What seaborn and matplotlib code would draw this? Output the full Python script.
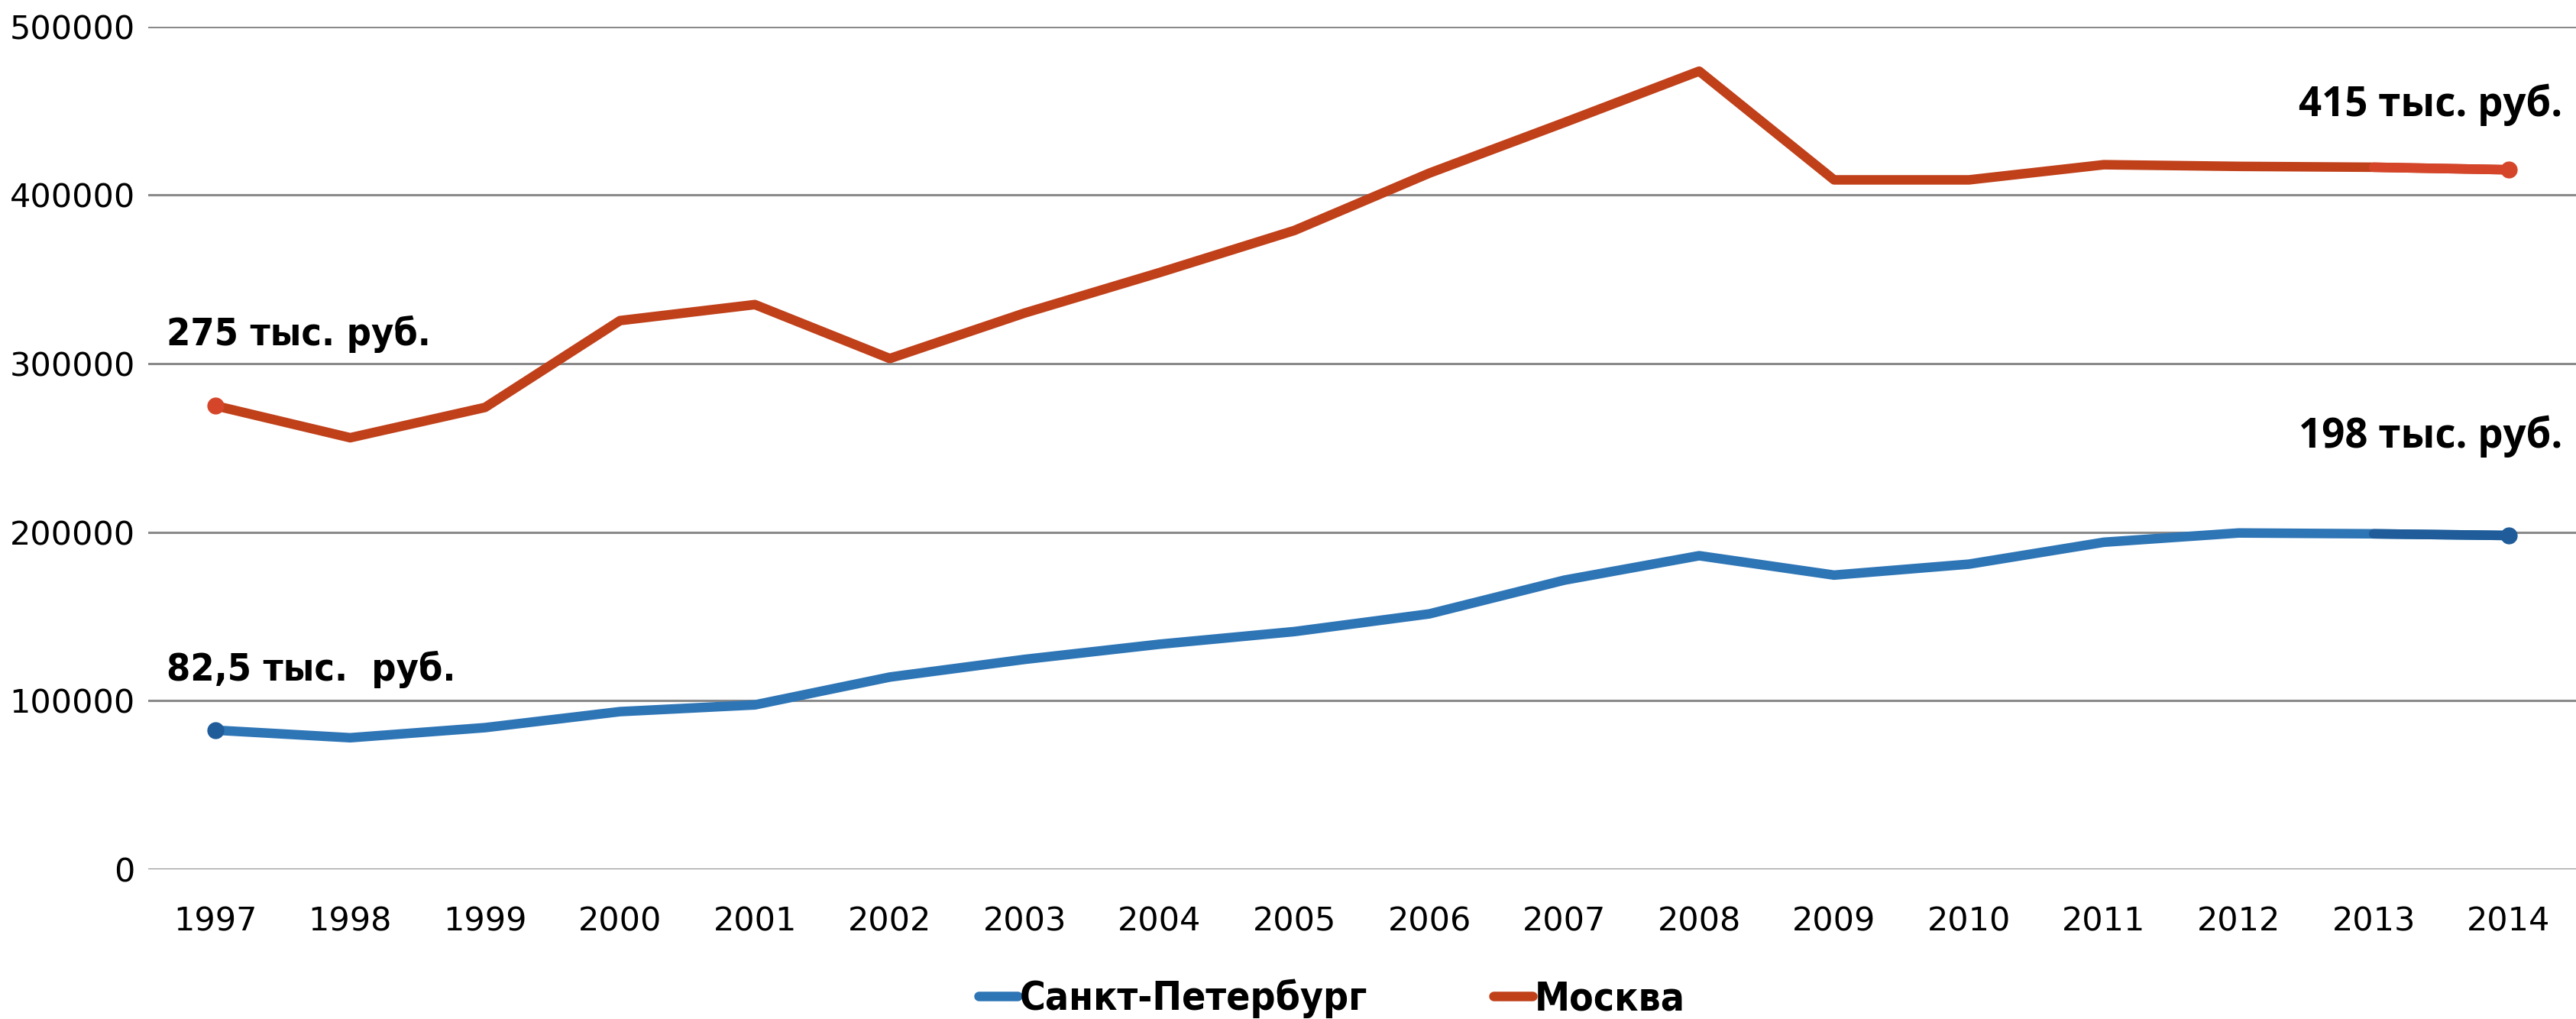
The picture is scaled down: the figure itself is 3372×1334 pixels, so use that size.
import matplotlib
matplotlib.use("Agg")
import matplotlib.pyplot as plt
import seaborn as sns
import pandas as pd
from matplotlib.lines import Line2D

# Данные (оценены по графику)
years = list(range(1997, 2015))
spb = [82500, 78000, 84000, 93500, 97500, 114000, 124500, 133500, 141000,
       151500, 171500, 186000, 174500, 181000, 194000, 199500, 199000, 198000]
msk = [275000, 256000, 274000, 325500, 335000, 303000, 330000, 354000, 379000,
       413000, 443000, 473500, 409000, 409000, 418000, 417000, 416500, 415000]
series_names = ["Санкт-Петербург", "Москва"]
colors = {"Санкт-Петербург": "#2E75B6", "Москва": "#C0401A"}
end_colors = {"Санкт-Петербург": "#1F5C99", "Москва": "#D5452A"}
y_ticks = [0, 100000, 200000, 300000, 400000, 500000]

df = pd.DataFrame({
    "year": years * 2,
    "value": spb + msk,
    "city": [series_names[0]] * len(years) + [series_names[1]] * len(years),
})

sns.set_style("white")
plt.rcParams["font.family"] = ["DejaVu Sans"]
plt.rcParams["text.color"] = "black"

fig = plt.figure(figsize=(33.72, 13.34), dpi=100)
ax = fig.add_axes([0.0574, 0.147, 0.9426, 0.827])

sns.lineplot(data=df, x="year", y="value", hue="city", palette=colors,
             linewidth=9, ax=ax, legend=False, sort=False)

# последний отрезок и точки на концах рядов (чуть другой оттенок)
for name, vals in zip(series_names, [spb, msk]):
    ax.plot(years[-2:], vals[-2:], color=end_colors[name], linewidth=9,
            solid_capstyle="round", zorder=3)
    ax.plot([years[0], years[-1]], [vals[0], vals[-1]], "o",
            color=end_colors[name], markersize=15, zorder=4)

ax.set_xlim(years[0] - 0.5, years[-1] + 0.5)
ax.set_ylim(0, 500000)
ax.set_xticks(years)
ax.set_xticklabels([str(y) for y in years])
ax.set_yticks(y_ticks)
ax.set_yticklabels([str(v) for v in y_ticks])
ax.set_xlabel("")
ax.set_ylabel("")
ax.yaxis.grid(True, color="#8a8a8a", linewidth=2.2)
ax.xaxis.grid(False)
ax.set_axisbelow(True)
for side in ["top", "right", "left", "bottom"]:
    ax.spines[side].set_visible(False)
ax.tick_params(axis="both", length=0, labelsize=31, colors="black")
ax.tick_params(axis="y", pad=12)
ax.tick_params(axis="x", pad=34)

# подписи значений
lbl_left = dict(fontsize=36, fontweight="bold", va="baseline", ha="left",
                fontstretch="condensed", color="black")
lbl_right = dict(fontsize=38, fontweight="bold", va="baseline", ha="right",
                 family=["Open Sans", "DejaVu Sans"], color="black")
ax.text(1996.64, 311000, "275 тыс. руб.", **lbl_left)
ax.text(1996.64, 112000, "82,5 тыс.  руб.", **lbl_left)
ax.text(2014.4, 447000, "415 тыс. руб.", **lbl_right)
ax.text(2014.4, 250000, "198 тыс. руб.", **lbl_right)

handles = [Line2D([0], [0], color=colors[n], linewidth=9,
                  solid_capstyle="round") for n in series_names]
fig.legend(handles, series_names, loc="center", bbox_to_anchor=(0.517, 0.02),
           ncol=2, frameon=False, handlelength=1.0, handletextpad=0.05,
           columnspacing=3.2, labelcolor="black",
           prop={"size": 37, "weight": "bold", "stretch": "condensed"})

fig.savefig("out.png", dpi=100)
